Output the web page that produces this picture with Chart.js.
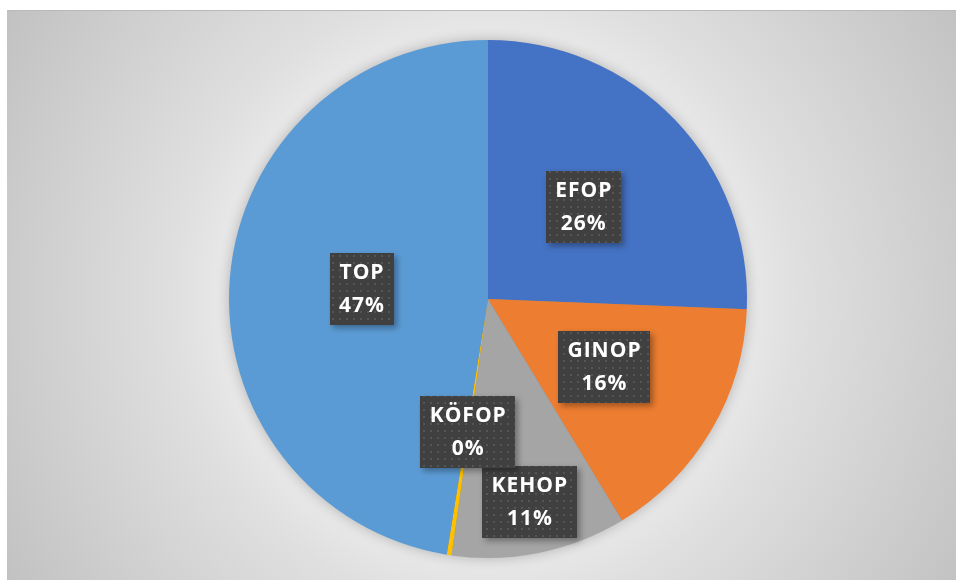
<!DOCTYPE html>
<html>
<head>
<meta charset="utf-8">
<script src="https://cdn.jsdelivr.net/npm/chart.js@4"></script>
<style>
  body { margin: 0; background: #fff; }
  canvas { display: block; }
</style>
</head>
<body>
<canvas id="pieChart" width="956" height="580"></canvas>
<script>
// operative programme shares (%)
const categories = ['EFOP', 'GINOP', 'KEHOP', 'KÖFOP', 'TOP'];
const shares = [25.6, 15.7, 10.9, 0.3, 47.4];
const sliceColors = ['#4472C4', '#ED7D31', '#A5A5A5', '#FFC000', '#5B9BD5'];

// small dotted texture used for the label boxes
function dotPattern(ctx) {
    const p = document.createElement('canvas');
    p.width = 7; p.height = 7;
    const c = p.getContext('2d');
    c.fillStyle = '#404040';
    c.fillRect(0, 0, 7, 7);
    c.fillStyle = '#555555';
    c.fillRect(3, 3, 2, 2);
    return ctx.createPattern(p, 'repeat');
}

// grey panel with a radial gradient behind the pie
const panelBackground = {
    id: 'panelBackground',
    beforeDraw(chart) {
        const { ctx, width, height } = chart;
        ctx.save();
        ctx.fillStyle = '#ffffff';
        ctx.fillRect(0, 0, width, height);
        const cx = 486, cy = 298;
        const g = ctx.createRadialGradient(cx, cy, 0, cx, cy, 570);
        g.addColorStop(0, '#f3f3f3');
        g.addColorStop(0.42, '#ececec');
        g.addColorStop(0.55, '#dfdfdf');
        g.addColorStop(1, '#c0c0c0');
        ctx.fillStyle = g;
        ctx.fillRect(7, 10, width - 7, height - 10);
        ctx.fillStyle = '#b9b9b9';
        ctx.fillRect(7, 10, width - 7, 1);
        ctx.restore();
    }
};

// soft shadow under the whole pie
const pieShadow = {
    id: 'pieShadow',
    beforeDatasetsDraw(chart) {
        const arc = chart.getDatasetMeta(0).data[0];
        if (!arc) return;
        const { ctx } = chart;
        ctx.save();
        ctx.shadowColor = 'rgba(0,0,0,0.28)';
        ctx.shadowBlur = 14;
        ctx.fillStyle = '#888';
        ctx.beginPath();
        ctx.arc(arc.x, arc.y, arc.outerRadius - 1, 0, Math.PI * 2);
        ctx.fill();
        ctx.restore();
    }
};

// name + percentage in a dark box on each slice
const sliceLabels = {
    id: 'sliceLabels',
    afterDatasetsDraw(chart, args, opts) {
        const { ctx } = chart;
        const meta = chart.getDatasetMeta(0);
        const data = chart.data.datasets[0].data;
        const total = data.reduce((a, b) => a + b, 0);
        const fill = dotPattern(ctx);
        ctx.save();
        ctx.font = 'bold 21px "Open Sans"';
        ctx.letterSpacing = '1px';
        ctx.textAlign = 'center';
        ctx.textBaseline = 'middle';
        meta.data.forEach((arc, i) => {
            const mid = (arc.startAngle + arc.endAngle) / 2;
            const r = arc.outerRadius * opts.radius[i];
            const x = arc.x + Math.cos(mid) * r;
            const y = arc.y + Math.sin(mid) * r;
            const lines = [chart.data.labels[i], Math.round(data[i] / total * 100) + '%'];
            const w = Math.max(...lines.map(t => ctx.measureText(t).width)) + 18;
            const h = 72;
            ctx.save();
            ctx.shadowColor = 'rgba(0,0,0,0.35)';
            ctx.shadowBlur = 6;
            ctx.shadowOffsetX = 3;
            ctx.shadowOffsetY = 3;
            ctx.fillStyle = fill;
            ctx.fillRect(Math.round(x - w / 2), Math.round(y - h / 2), Math.round(w), h);
            ctx.restore();
            ctx.fillStyle = '#ffffff';
            ctx.fillText(lines[0], x + 0.5, y - 16);
            ctx.fillText(lines[1], x + 0.5, y + 17);
        });
        ctx.restore();
    }
};

const ctx = document.getElementById('pieChart').getContext('2d');
new Chart(ctx, {
    type: 'pie',
    data: {
        labels: categories,
        datasets: [{
            data: shares,
            backgroundColor: sliceColors,
            borderWidth: 0
        }]
    },
    options: {
        responsive: false,
        animation: false,
        layout: { padding: { left: 229, right: 209, top: 40, bottom: 22 } },
        plugins: {
            legend: { display: false },
            tooltip: { enabled: false },
            sliceLabels: { radius: [0.51, 0.52, 0.8, 0.52, 0.49] }
        }
    },
    plugins: [panelBackground, pieShadow, sliceLabels]
});
</script>
</body>
</html>
